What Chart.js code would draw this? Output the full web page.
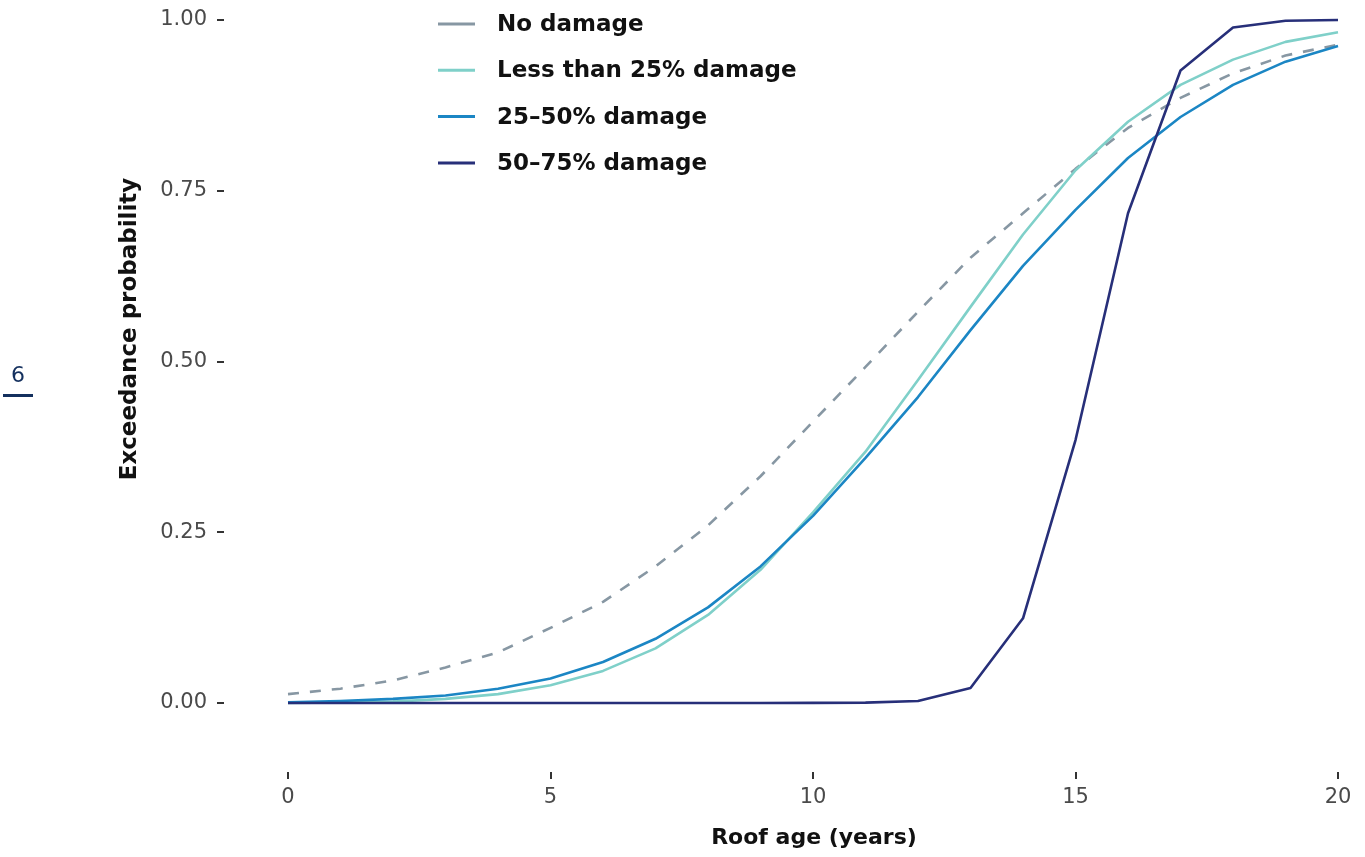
<!DOCTYPE html>
<html>
<head>
<meta charset="utf-8">
<script src="https://cdn.jsdelivr.net/npm/chart.js@4.4.1/dist/chart.umd.min.js"></script>
<style>
  html, body { margin: 0; padding: 0; background: #ffffff; }
  #wrap { position: relative; width: 1365px; height: 857px; }
  canvas { display: block; }
</style>
</head>
<body>
<div id="wrap"><canvas id="chart" width="1365" height="857"></canvas></div>
<script>
// Roof age in years
const ages = [0, 1, 2, 3, 4, 5, 6, 7, 8, 9, 10, 11, 12, 13, 14, 15, 16, 17, 18, 19, 20];

// Exceedance probability by damage state
const noDamage      = [0.013, 0.021, 0.033, 0.052, 0.074, 0.110, 0.148, 0.200, 0.260, 0.332, 0.412, 0.492, 0.573, 0.652, 0.717, 0.782, 0.842, 0.886, 0.922, 0.948, 0.964];
const lessThan25    = [0.000, 0.001, 0.002, 0.006, 0.013, 0.026, 0.047, 0.080, 0.129, 0.195, 0.279, 0.368, 0.473, 0.580, 0.686, 0.780, 0.851, 0.905, 0.942, 0.968, 0.982];
const damage25to50  = [0.001, 0.003, 0.006, 0.011, 0.021, 0.036, 0.060, 0.094, 0.140, 0.200, 0.274, 0.359, 0.448, 0.546, 0.640, 0.722, 0.798, 0.858, 0.905, 0.939, 0.962];
const damage50to75  = [0.000, 0.000, 0.000, 0.000, 0.000, 0.000, 0.000, 0.000, 0.000, 0.000, 0.0002, 0.0005, 0.003, 0.022, 0.124, 0.385, 0.717, 0.926, 0.989, 0.999, 1.000];

const seriesNames = ['No damage', 'Less than 25% damage', '25\u201350% damage', '50\u201375% damage'];

// Axis ticks
const xTicks = [0, 5, 10, 15, 20];
const yTicks = [0, 0.25, 0.50, 0.75, 1.00];

const xTitle = 'Roof age (years)';
const yTitle = 'Exceedance probability';
const pageNumber = '6';

const FONT = '"DejaVu Sans", "Noto Sans", sans-serif';

function pts(values) {
  return ages.map((a, i) => ({ x: a, y: values[i] }));
}

// Legend drawn as a vertical stack with solid line keys
const legendPlugin = {
  id: 'stackLegend',
  afterDraw(chart) {
    const ctx = chart.ctx;
    const sets = chart.data.datasets;
    ctx.save();
    ctx.font = 'bold 23px ' + FONT;
    ctx.textBaseline = 'middle';
    ctx.textAlign = 'left';
    sets.forEach((ds, i) => {
      const y = 24 + i * 46.3;
      ctx.strokeStyle = ds.borderColor;
      ctx.lineWidth = 3;
      ctx.setLineDash([]);
      ctx.beginPath();
      ctx.moveTo(438, y);
      ctx.lineTo(475, y);
      ctx.stroke();
      ctx.fillStyle = '#111111';
      ctx.fillText(ds.label, 497, y + 1);
    });
    ctx.restore();
  }
};

// Axis titles and page marker
const titlesPlugin = {
  id: 'axisTitles',
  afterDraw(chart) {
    const ctx = chart.ctx;
    ctx.save();
    ctx.fillStyle = '#111111';
    ctx.textAlign = 'center';
    ctx.textBaseline = 'middle';
    ctx.font = 'bold 22px ' + FONT;
    ctx.fillText(xTitle, 814, 838);
    ctx.font = 'bold 23px ' + FONT;
    ctx.translate(130, 329);
    ctx.rotate(-Math.PI / 2);
    ctx.fillText(yTitle, 0, 0);
    ctx.restore();

    ctx.save();
    ctx.font = '22px ' + FONT;
    ctx.textAlign = 'center';
    ctx.textBaseline = 'middle';
    ctx.fillStyle = '#14305e';
    ctx.fillText(pageNumber, 18, 376);
    ctx.fillRect(3, 394, 30, 3);
    ctx.restore();
  }
};

new Chart(document.getElementById('chart'), {
  type: 'line',
  data: {
    datasets: [
      { label: seriesNames[0], data: pts(noDamage), borderColor: '#8797a3', borderDash: [11, 11], order: 3 },
      { label: seriesNames[1], data: pts(lessThan25), borderColor: '#7fd0c9', order: 2 },
      { label: seriesNames[2], data: pts(damage25to50), borderColor: '#1b86c4', order: 1 },
      { label: seriesNames[3], data: pts(damage50to75), borderColor: '#272f79', order: 0 }
    ]
  },
  options: {
    responsive: false,
    animation: false,
    devicePixelRatio: 1,
    layout: { padding: { top: 6, right: 1, left: 0, bottom: 0 } },
    elements: {
      line: { borderWidth: 2.6, tension: 0, fill: false, borderCapStyle: 'butt', borderJoinStyle: 'round' },
      point: { radius: 0, hoverRadius: 0 }
    },
    plugins: {
      legend: { display: false },
      tooltip: { enabled: false },
      title: { display: false }
    },
    scales: {
      x: {
        type: 'linear',
        min: -1.219,
        max: 20.495,
        afterFit(s) { s.height = 85; s.paddingLeft = 0; s.paddingRight = 0; },
        afterBuildTicks(s) { s.ticks = xTicks.map(v => ({ value: v })); },
        border: { display: false },
        grid: { drawOnChartArea: false, drawTicks: true, tickLength: 7, color: '#333333', lineWidth: 2 },
        ticks: {
          padding: 6,
          color: '#4a4a4a',
          font: { family: FONT, size: 21 },
          maxRotation: 0,
          callback: v => String(v)
        }
      },
      y: {
        type: 'linear',
        min: -0.101,
        max: 1.0205,
        afterFit(s) { s.width = 224; s.paddingTop = 0; s.paddingBottom = 0; },
        afterBuildTicks(s) { s.ticks = yTicks.map(v => ({ value: v })); },
        border: { display: false },
        grid: { drawOnChartArea: false, drawTicks: true, tickLength: 7, color: '#333333', lineWidth: 2 },
        ticks: {
          padding: 10,
          color: '#4a4a4a',
          font: { family: FONT, size: 21 },
          callback: v => v.toFixed(2)
        }
      }
    }
  },
  plugins: [legendPlugin, titlesPlugin]
});
</script>
</body>
</html>
